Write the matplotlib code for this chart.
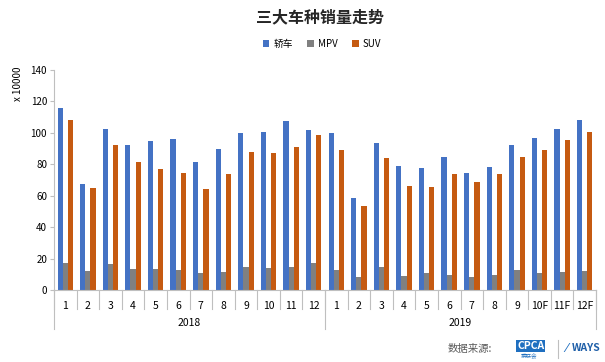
import numpy as np
import matplotlib
matplotlib.use('Agg')
import matplotlib.pyplot as plt
import matplotlib.transforms as mtransforms

plt.rcParams['font.family'] = ['Noto Sans CJK SC', 'DejaVu Sans']

# Data (x 10000 units)
months = ['1', '2', '3', '4', '5', '6', '7', '8', '9', '10', '11', '12',
          '1', '2', '3', '4', '5', '6', '7', '8', '9', '10F', '11F', '12F']
years = ['2018', '2019']
sedan = [115.6, 67.5, 102.5, 92.1, 94.6, 96.3, 81.7, 89.7, 100.2, 100.4, 107.6, 102.0,
         99.7, 58.3, 93.3, 79.1, 77.9, 84.8, 74.7, 78.3, 92.1, 96.5, 102.7, 108.4]
mpv = [17.4, 12.1, 16.8, 13.1, 13.6, 12.7, 10.6, 11.7, 14.4, 14.0, 14.6, 17.4,
       12.7, 8.5, 14.6, 8.9, 10.6, 9.5, 8.5, 9.8, 12.5, 10.6, 11.5, 12.1]
suv = [108.5, 65.2, 92.1, 81.2, 76.8, 74.2, 64.1, 74.0, 87.6, 87.2, 91.0, 98.6,
       89.1, 53.7, 84.0, 66.4, 65.3, 73.6, 68.5, 73.6, 84.8, 89.1, 95.5, 100.3]

c_blue = '#4472C4'
c_gray = '#808080'
c_orange = '#C55A11'

fig = plt.figure(figsize=(6.05, 3.62), dpi=100)
ax = fig.add_axes([54/605, 1 - 290/362, 542/605, 220/362])

x = np.arange(len(months))
w = 0.23
ax.bar(x - w, sedan, w, color=c_blue, label='轿车')
ax.bar(x, mpv, w, color=c_gray, label='MPV')
ax.bar(x + w, suv, w, color=c_orange, label='SUV')

ax.set_xlim(-0.5, len(months) - 0.5)
ax.set_ylim(0, 140)
ax.set_yticks(range(0, 141, 20))
ax.tick_params(axis='y', labelsize=7, length=3, color='#BFBFBF', pad=2)
ax.tick_params(axis='x', length=0, labelsize=7.5, pad=8)
ax.set_xticks(x)
ax.set_xticklabels(months)

for s in ['top', 'right']:
    ax.spines[s].set_visible(False)
ax.spines['left'].set_color('#BFBFBF')
ax.spines['bottom'].set_color('#BFBFBF')

# hierarchical category axis separators
trans = mtransforms.blended_transform_factory(ax.transData, ax.transAxes)
for b in np.arange(-0.5, len(months), 1.0):
    ax.plot([b, b], [0, -0.086], color='#BFBFBF', lw=0.8, transform=trans, clip_on=False)
for b in [-0.5, 11.5, 23.5]:
    ax.plot([b, b], [0, -0.175], color='#BFBFBF', lw=0.8, transform=trans, clip_on=False)
for i, yr in enumerate(years):
    ax.text(i * 12 + 5.5, -0.148, yr, transform=trans, ha='center', va='center', fontsize=7.5)

ax.text(-0.066, 1.015, 'x 10000', transform=ax.transAxes, rotation=90,
        ha='center', va='top', fontsize=7)

fig.text(320/605, 1 - 17/362, '三大车种销量走势', ha='center', va='center',
         fontsize=11.5, fontweight='bold', color='#262626')
fig.legend(*ax.get_legend_handles_labels(), loc='center',
           bbox_to_anchor=(322/605, 1 - 44/362), ncol=3, frameon=False,
           fontsize=7, handlelength=0.7, handleheight=0.7, handletextpad=0.4,
           columnspacing=1.5)

# source line
fig.text(448/605, 1 - 349/362, '数据来源:', ha='left', va='center', fontsize=7.5, color='#595959')
fig.text(517/605, 1 - 346/362, 'CPCA', ha='left', va='center', fontsize=7.5,
         color='white', fontweight='bold', style='italic',
         bbox=dict(boxstyle='square,pad=0.1', fc='#1F6FC0', ec='none'))
fig.text(529/605, 1 - 357/362, '乘联会', ha='center', va='center', fontsize=4, color='#1F6FC0')
fig.add_artist(plt.Line2D([558/605, 558/605], [1 - 340/362, 1 - 358/362],
                          color='#BFBFBF', lw=0.8))
fig.text(565/605, 1 - 348/362, '⁄', ha='left', va='center', fontsize=9, color='#1F6FC0',
         family='DejaVu Sans')
fig.text(572/605, 1 - 348/362, 'WAYS', ha='left', va='center', fontsize=7.5,
         color='#1F5FA8', fontweight='bold', style='italic')

plt.savefig('out.png', dpi=100)
